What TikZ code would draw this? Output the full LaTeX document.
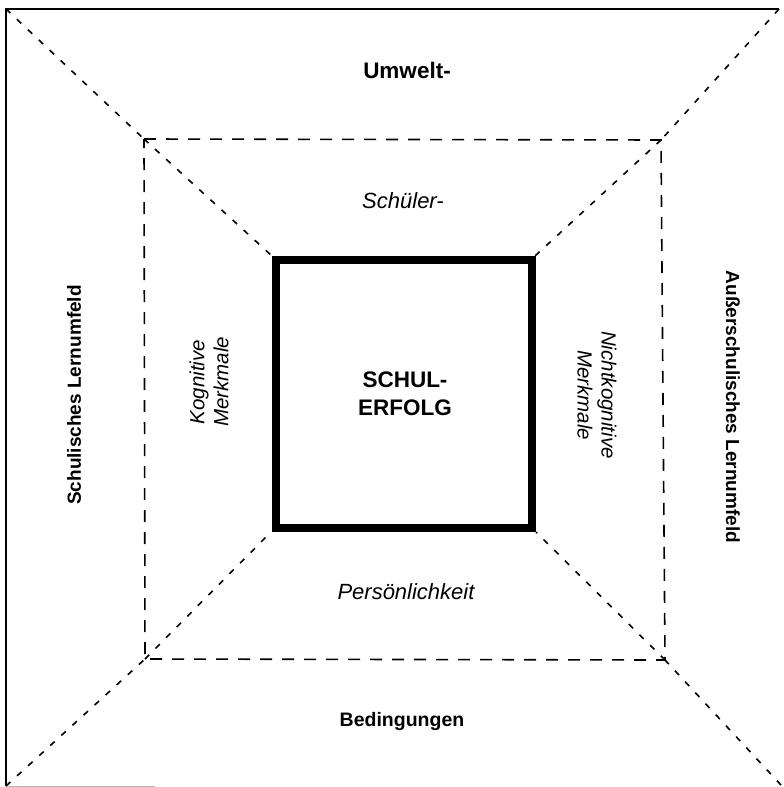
\documentclass[tikz,border=0pt]{standalone}
\usepackage{fontspec}
\setmainfont{Liberation Sans}
\begin{document}
\begin{tikzpicture}[x=1pt,y=-1pt,
  diag/.style={line width=1.6pt,dash pattern=on 6pt off 9pt},
  midbox/.style={line width=1.6pt,dash pattern=on 12pt off 10pt},
  frame/.style={line width=2pt},
  core/.style={line width=8pt},
  boldlbl/.style={font=\bfseries\fontsize{19.5}{23}\selectfont},
  bigbold/.style={font=\bfseries\fontsize{22.5}{26}\selectfont},
  sidelbl/.style={font=\bfseries\fontsize{19}{23}\selectfont},
  itlbl/.style={font=\itshape\fontsize{22}{26}\selectfont},
  rotit/.style={font=\itshape\fontsize{20.5}{24}\selectfont},
  multi/.style={align=center}]
\useasboundingbox (0,0) rectangle (784,787);
% corners
\coordinate (O1) at (6,9);
\coordinate (O2) at (779,9);
\coordinate (O3) at (781,785);
\coordinate (O4) at (6,786);
\coordinate (O4b) at (155,786);
\coordinate (M1) at (144,139);
\coordinate (M2) at (661,140);
\coordinate (M3) at (665,660);
\coordinate (M4) at (145,659);
\coordinate (I1) at (272,256);
\coordinate (I2) at (535,256);
\coordinate (I3) at (536,532);
\coordinate (I4) at (271,532);
% outer frame (left, top, part of bottom)
\draw[frame] (O4) -- (O1) -- (O2);
\draw[line width=1pt,gray!60] (O4) -- (O4b);
% middle dashed square
\draw[midbox] (M1) -- (M2) -- (M3) -- (M4) -- cycle;
% diagonals
\draw[diag] (O1) -- (M1);
\draw[diag] (O2) -- (M2);
\draw[diag] (O3) -- (M3);
\draw[diag] (O4) -- (M4);
\draw[diag] (M1) -- (I1);
\draw[diag] (M2) -- (I2);
\draw[diag] (M3) -- (I3);
\draw[diag] (M4) -- (I4);
% core square
\draw[core] (276,260) rectangle (532,528);
% labels
\node[bigbold] (umw) at (407,70) {Umwelt-};
\node[itlbl] (sch) at (403,201) {Schüler-};
\node[itlbl] (per) at (406,592) {Persönlichkeit};
\node[boldlbl] (bed) at (402,721) {Bedingungen};
\node[multi,bigbold] (erf) at (405,394) {SCHUL-\\[2pt]ERFOLG};
\node[rotit,multi,rotate=90] (kog) at (209,382) {Kognitive\\Merkmale};
\node[rotit,multi,rotate=-90] (nko) at (597,395) {Nichtkognitive\\Merkmale};
\node[sidelbl,rotate=90] (sl) at (74,395) {Schulisches Lernumfeld};
\node[sidelbl,rotate=-90] (al) at (733,407) {Außerschulisches Lernumfeld};
\end{tikzpicture}
\end{document}
